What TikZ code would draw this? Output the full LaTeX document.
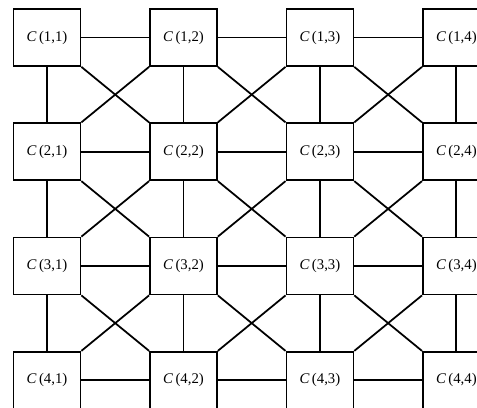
\documentclass[tikz,border=0pt]{standalone}
\usepackage{fontspec}
\setmainfont{Liberation Serif}
\usetikzlibrary{positioning}
\begin{document}
\begin{tikzpicture}[
    cell/.style={draw,line width=1pt,minimum width=1.34cm,minimum height=1.14cm,inner sep=2pt,font=\fontsize{8.4}{10}\selectfont},
    link/.style={line width=1pt},
    node distance=1.11cm and 1.354cm
  ]
    \useasboundingbox (-0.94,0.75) rectangle (8.6,-7.4);
    \clip (-0.94,0.75) rectangle (8.6,-7.4);

    % first row
    \node[cell] (c11) at (0,0) {\textit{C}\,(1,1)};
    \node[cell,right=of c11] (c12) {\textit{C}\,(1,2)};
    \node[cell,right=of c12] (c13) {\textit{C}\,(1,3)};
    \node[cell,right=of c13] (c14) {\textit{C}\,(1,4)};

    % second row
    \node[cell,below=of c11] (c21) {\textit{C}\,(2,1)};
    \node[cell,right=of c21] (c22) {\textit{C}\,(2,2)};
    \node[cell,right=of c22] (c23) {\textit{C}\,(2,3)};
    \node[cell,right=of c23] (c24) {\textit{C}\,(2,4)};

    % third row
    \node[cell,below=of c21] (c31) {\textit{C}\,(3,1)};
    \node[cell,right=of c31] (c32) {\textit{C}\,(3,2)};
    \node[cell,right=of c32] (c33) {\textit{C}\,(3,3)};
    \node[cell,right=of c33] (c34) {\textit{C}\,(3,4)};

    % fourth row
    \node[cell,below=of c31] (c41) {\textit{C}\,(4,1)};
    \node[cell,right=of c41] (c42) {\textit{C}\,(4,2)};
    \node[cell,right=of c42] (c43) {\textit{C}\,(4,3)};
    \node[cell,right=of c43] (c44) {\textit{C}\,(4,4)};

    % rows and columns
    \foreach \r in {1,...,4}
      \foreach \a/\b in {1/2,2/3,3/4} {
        \draw[link] (c\r\a) -- (c\r\b);
        \draw[link] (c\a\r) -- (c\b\r);
      }

    % diagonals
    \foreach \a/\b in {1/2,2/3,3/4}
      \foreach \p/\q in {1/2,2/3,3/4} {
        \draw[link] (c\a\p.south east) -- (c\b\q.north west);
        \draw[link] (c\a\q.south west) -- (c\b\p.north east);
      }
  \end{tikzpicture}
\end{document}
